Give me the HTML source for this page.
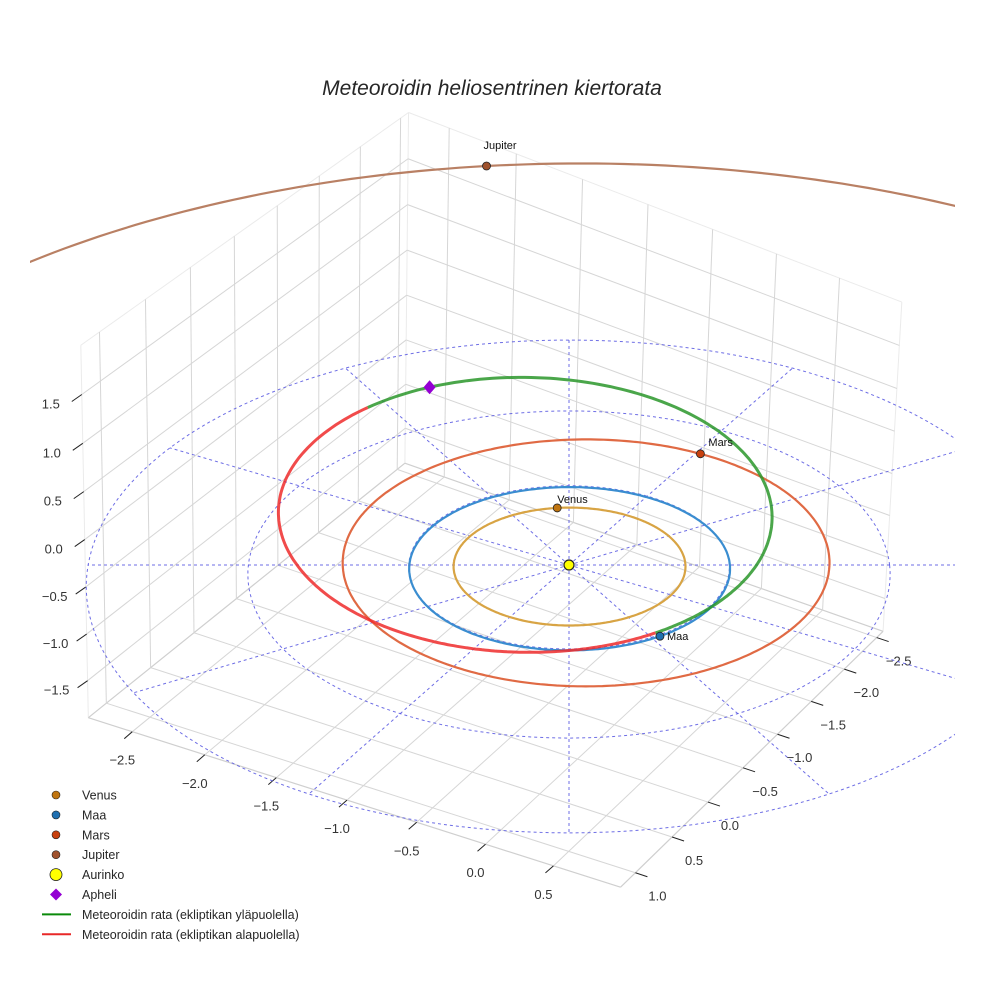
<!DOCTYPE html>
<html><head><meta charset="utf-8">
<style>
html,body{margin:0;padding:0;background:#fff;width:984px;height:984px;overflow:hidden;}
svg{display:block;font-family:"Liberation Sans",sans-serif;}
</style></head>
<body>
<svg id="chart" width="984" height="984" viewBox="0 0 984 984">
<defs><clipPath id="axclip"><rect x="30" y="40" width="925" height="915"/></clipPath></defs>
<rect x="0" y="0" width="984" height="984" fill="#fff"/>
<text x="492" y="95" text-anchor="middle" font-size="21" font-style="italic" fill="#262626">Meteoroidin heliosentrinen kiertorata</text>
<g id="grid"></g>
<g id="ticks"></g>
<g id="plot" clip-path="url(#axclip)"></g>
<g id="marks"></g>
<g id="legend"></g>
</svg>
<script>
// ---- data ----
const xTicks=[-2.5,-2.0,-1.5,-1.0,-0.5,0.0,0.5];
const yTicks=[-2.5,-2.0,-1.5,-1.0,-0.5,0.0,0.5,1.0];
const zTicks=[-1.5,-1.0,-0.5,0.0,0.5,1.0,1.5];
const xLimits=[-2.8,1.0];
const yLimits=[-2.6,1.2];
const zLimits=[-1.9,2.0];
const planetNames=['Venus','Maa','Mars','Jupiter'];
const planetA=[0.723,1.0,1.524,5.5];
const planetE=[0.007,0.017,0.093,0.048];
const planetPeri=[131,103,221,252];
const planetAngle=[96,303,59,96];
const meteorA=1.72;
const meteorE=0.44;
const meteorPeri=292;
const meteorIncl=3;
const meteorNode=303;
const guideRadii=[1,2,3];
const guideAngles=[0,30,60,90,120,150,180,210,240,270,300,330];
const legendLabels=['Venus','Maa','Mars','Jupiter','Aurinko','Apheli','Meteoroidin rata (ekliptikan yläpuolella)','Meteoroidin rata (ekliptikan alapuolella)'];

// ---- box camera calibration (axis box corners & ticks -> screen) ----
const [XMIN,XMAX]=xLimits,[YMIN,YMAX]=yLimits,[ZMIN,ZMAX]=zLimits;
const calib=[
 [[XMIN,YMAX,ZMIN],[100,725]],[[XMAX,YMAX,ZMIN],[618,895]],[[XMAX,YMIN,ZMIN],[893,612]],
 [[XMIN,YMIN,ZMIN],[395,478]],[[XMIN,YMAX,ZMAX],[80,325]],[[XMIN,YMIN,ZMAX],[393,110]],
 [[XMAX,YMIN,ZMAX],[910,336]],
 [[0,YMAX,ZMIN],[475,847]],[[0.5,YMAX,ZMIN],[546,868]],[[-2.5,YMAX,ZMIN],[137,741]],[[-1.0,YMAX,ZMIN],[336,808]],
 [[XMAX,-2.5,ZMIN],[883,618]],[[XMAX,-1.0,ZMIN],[778,724]],[[XMAX,0.0,ZMIN],[707,799]],[[XMAX,1.0,ZMIN],[631,877]],
 [[XMIN,YMAX,1.5],[86,379]],[[XMIN,YMAX,0],[92,534]],[[XMIN,YMAX,-1.5],[98,686]]
];
function solve(A,b){const n=b.length;for(let i=0;i<n;i++){let m=i;for(let k=i+1;k<n;k++)if(Math.abs(A[k][i])>Math.abs(A[m][i]))m=k;[A[i],A[m]]=[A[m],A[i]];[b[i],b[m]]=[b[m],b[i]];for(let k=i+1;k<n;k++){const f=A[k][i]/A[i][i];for(let j=i;j<n;j++)A[k][j]-=f*A[i][j];b[k]-=f*b[i];}}const x=new Array(n).fill(0);for(let i=n-1;i>=0;i--){let s=b[i];for(let j=i+1;j<n;j++)s-=A[i][j]*x[j];x[i]=s/A[i][i];}return x;}
const rows=[],rhs=[];
calib.forEach(([w,s])=>{const[X,Y,Z]=w,[u,v]=s;rows.push([X,Y,Z,1,0,0,0,0,-u*X,-u*Y,-u*Z]);rhs.push(u);rows.push([0,0,0,0,X,Y,Z,1,-v*X,-v*Y,-v*Z]);rhs.push(v);});
const N=Array.from({length:11},()=>new Array(11).fill(0)),B=new Array(11).fill(0);
rows.forEach((r,k)=>{for(let i=0;i<11;i++){B[i]+=r[i]*rhs[k];for(let j=0;j<11;j++)N[i][j]+=r[i]*r[j];}});
const P=solve(N,B);
function proj(X,Y,Z){const w=P[8]*X+P[9]*Y+P[10]*Z+1;if(w<=0.05)return null;return[(P[0]*X+P[1]*Y+P[2]*Z+P[3])/w,(P[4]*X+P[5]*Y+P[6]*Z+P[7])/w];}

// ---- ecliptic plane projection (screen-aligned polar frame) ----
const SUN=[569,565],KX=160.3,MY=81.5,PC=0.02907,KZ=100;
function eproj(r,phiDeg,z){const a=r*Math.cos(phiDeg*Math.PI/180),yp=-r*Math.sin(phiDeg*Math.PI/180);const d=1-PC*yp;if(d<=0.1)return null;const f=1/d;return[SUN[0]+f*KX*a,SUN[1]+f*(MY*yp-KZ*(z||0))];}

const NS='http://www.w3.org/2000/svg';
function mk(tag,attrs,parent){const e=document.createElementNS(NS,tag);for(const k in attrs)e.setAttribute(k,attrs[k]);parent.appendChild(e);return e;}
function pathFrom(pts){let d='',pen=false;pts.forEach(p=>{if(!p||p[1]>975||p[1]<0||p[0]<10||p[0]>975){pen=false;return;}d+=(pen?'L':'M')+p[0].toFixed(1)+' '+p[1].toFixed(1);pen=true;});return d;}
const gGrid=document.getElementById('grid'),gT=document.getElementById('ticks'),gP=document.getElementById('plot'),gM=document.getElementById('marks'),gL=document.getElementById('legend');
function line3(a,b,attrs,parent,name){const p=proj(...a),q=proj(...b);if(!p||!q)return;const e=mk('line',Object.assign({x1:p[0],y1:p[1],x2:q[0],y2:q[1]},attrs),parent);

}

// panes
const gridStyle={stroke:'#d6d6d6','stroke-width':1};
const paneStyle={stroke:'#ebebeb','stroke-width':1};
[[[XMIN,YMAX,ZMIN],[XMIN,YMAX,ZMAX]],[[XMIN,YMIN,ZMIN],[XMIN,YMIN,ZMAX]],[[XMAX,YMIN,ZMIN],[XMAX,YMIN,ZMAX]],
 [[XMIN,YMAX,ZMAX],[XMIN,YMIN,ZMAX]],[[XMIN,YMIN,ZMAX],[XMAX,YMIN,ZMAX]]].forEach(s=>line3(s[0],s[1],paneStyle,gGrid,'pane-edge'));
[[[XMIN,YMAX,ZMIN],[XMAX,YMAX,ZMIN]],[[XMAX,YMAX,ZMIN],[XMAX,YMIN,ZMIN]],[[XMIN,YMAX,ZMIN],[XMIN,YMIN,ZMIN]],[[XMIN,YMIN,ZMIN],[XMAX,YMIN,ZMIN]]].forEach(s=>line3(s[0],s[1],{stroke:'#cfcfcf','stroke-width':1.2},gGrid,'floor-edge'));
xTicks.forEach(x=>{line3([x,YMIN,ZMIN],[x,YMAX,ZMIN],gridStyle,gGrid,'floor-grid-x');line3([x,YMIN,ZMIN],[x,YMIN,ZMAX],gridStyle,gGrid,'wall-grid-x');});
yTicks.forEach(y=>{line3([XMIN,y,ZMIN],[XMAX,y,ZMIN],gridStyle,gGrid,'floor-grid-y');line3([XMIN,y,ZMIN],[XMIN,y,ZMAX],gridStyle,gGrid,'wall-grid-y');});
zTicks.forEach(z=>{line3([XMIN,YMIN,z],[XMIN,YMAX,z],gridStyle,gGrid,'wall-grid-z-left');line3([XMIN,YMIN,z],[XMAX,YMIN,z],gridStyle,gGrid,'wall-grid-z-back');});

// ticks & labels
function fmt(v){return (v<0?'\u2212':'')+Math.abs(v).toFixed(1);}
function tickLabel(p,dx,dy,txt,name){const t=mk('text',{x:(p[0]+dx).toFixed(1),y:(p[1]+dy+5).toFixed(1),'text-anchor':'middle','font-size':13,fill:'#333'},gT);t.textContent=txt;

}
xTicks.forEach(x=>{const p=proj(x,YMAX,ZMIN);mk('line',{x1:p[0],y1:p[1],x2:p[0]-8,y2:p[1]+7,stroke:'#222','stroke-width':1},gT);tickLabel(p,-10,28,fmt(x),'x-tick-label');});
yTicks.forEach(y=>{const p=proj(XMAX,y,ZMIN);mk('line',{x1:p[0],y1:p[1],x2:p[0]+12,y2:p[1]+4,stroke:'#222','stroke-width':1},gT);tickLabel(p,22,23,fmt(y),'y-tick-label');});
zTicks.forEach(z=>{const p=proj(XMIN,YMAX,z);mk('line',{x1:p[0],y1:p[1],x2:p[0]-10,y2:p[1]+7,stroke:'#222','stroke-width':1},gT);tickLabel(p,-31,9,fmt(z),'z-tick-label');});

// guide circles and radial lines (ecliptic plane)
guideRadii.forEach(r=>{const pts=[];for(let t=0;t<=360;t+=2)pts.push(eproj(r,t,0));const e=mk('path',{d:pathFrom(pts),fill:'none',stroke:'#5555e0','stroke-width':1,'stroke-dasharray':'3,3',opacity:0.85},gP);

});
const rMax=Math.max(...guideRadii);
guideAngles.forEach(a=>{const pts=[];for(let k=0;k<=30;k++)pts.push(eproj(rMax*k/30,a,0));const e=mk('path',{d:pathFrom(pts),fill:'none',stroke:'#5555e0','stroke-width':1,'stroke-dasharray':'3,3',opacity:0.85},gP);

});

// planet orbits
const orbitColors=['#d8a444','#3a8dd0','#e06a44','#b98064'];
const markerColors=['#c07510','#1f6fb0','#c8400e','#a0522d'];
function rOf(a,e,peri,t){return a*(1-e*e)/(1+e*Math.cos((t-peri)*Math.PI/180));}
planetNames.forEach((n,i)=>{const pts=[];for(let t=0;t<=360;t+=1)pts.push(eproj(rOf(planetA[i],planetE[i],planetPeri[i],t),t,0));
const e=mk('path',{d:pathFrom(pts),fill:'none',stroke:orbitColors[i],'stroke-width':2.2},gP);

});

// meteoroid orbit
function meteorPoint(t){const r=rOf(meteorA,meteorE,meteorPeri,t);const z=r*Math.sin(meteorIncl*Math.PI/180)*Math.sin((t-meteorNode)*Math.PI/180);return eproj(r,t,z);}
const upPts=[],downPts=[];
for(let t=meteorNode;t<=meteorNode+180;t+=1)upPts.push(meteorPoint(t));
for(let t=meteorNode-180;t<=meteorNode;t+=1)downPts.push(meteorPoint(t));
let e1=mk('path',{d:pathFrom(downPts),fill:'none',stroke:'#ee2b2b','stroke-width':3,opacity:0.85},gP);


let e2=mk('path',{d:pathFrom(upPts),fill:'none',stroke:'#2a962a','stroke-width':3,opacity:0.85},gP);



// sun
const sp=eproj(0,0,0);
let sun=mk('circle',{cx:sp[0],cy:sp[1],r:5,fill:'#ffff00',stroke:'#222','stroke-width':1.2},gM);



// planet markers
const labelOffsets=[[0,-5],[7,4],[8,-8],[-3,-17]];
planetNames.forEach((n,i)=>{const t=planetAngle[i];const p=eproj(rOf(planetA[i],planetE[i],planetPeri[i],t),t,0);if(!p)return;
const c=mk('circle',{cx:p[0],cy:p[1],r:4,fill:markerColors[i],stroke:'#222','stroke-width':0.8},gM);


const tx=mk('text',{x:p[0]+labelOffsets[i][0],y:p[1]+labelOffsets[i][1],'font-size':11,fill:'#111'},gM);tx.textContent=n;

});

// aphelion
const ap=meteorPoint(meteorPeri+180);
let dm=mk('path',{d:`M${ap[0]} ${ap[1]-7}L${ap[0]+6} ${ap[1]}L${ap[0]} ${ap[1]+7}L${ap[0]-6} ${ap[1]}Z`,fill:'#9400d3'},gM);



// legend
const legendKinds=['dot','dot','dot','dot','sun','diamond','line','line'];
const legendColors=['#c07510','#1f6fb0','#c8400e','#a0522d','#ffff00','#9400d3','#0a8a0a','#e82828'];
legendLabels.forEach((lab,i)=>{const y=795+i*19.9;const g=mk('g',{},gL);


const k=legendKinds[i],c=legendColors[i];
if(k==='dot')mk('circle',{cx:56,cy:y,r:4,fill:c,stroke:'#222','stroke-width':0.6},g);
else if(k==='sun')mk('circle',{cx:56,cy:y,r:6,fill:c,stroke:'#222','stroke-width':0.8},g);
else if(k==='diamond')mk('path',{d:`M56 ${y-6}L62 ${y}L56 ${y+6}L50 ${y}Z`,fill:c},g);
else mk('line',{x1:42,y1:y,x2:71,y2:y,stroke:c,'stroke-width':2},g);
const t=mk('text',{x:82,y:y+4.5,'font-size':12.5,fill:'#262626'},g);t.textContent=lab;});
</script>
</body></html>
